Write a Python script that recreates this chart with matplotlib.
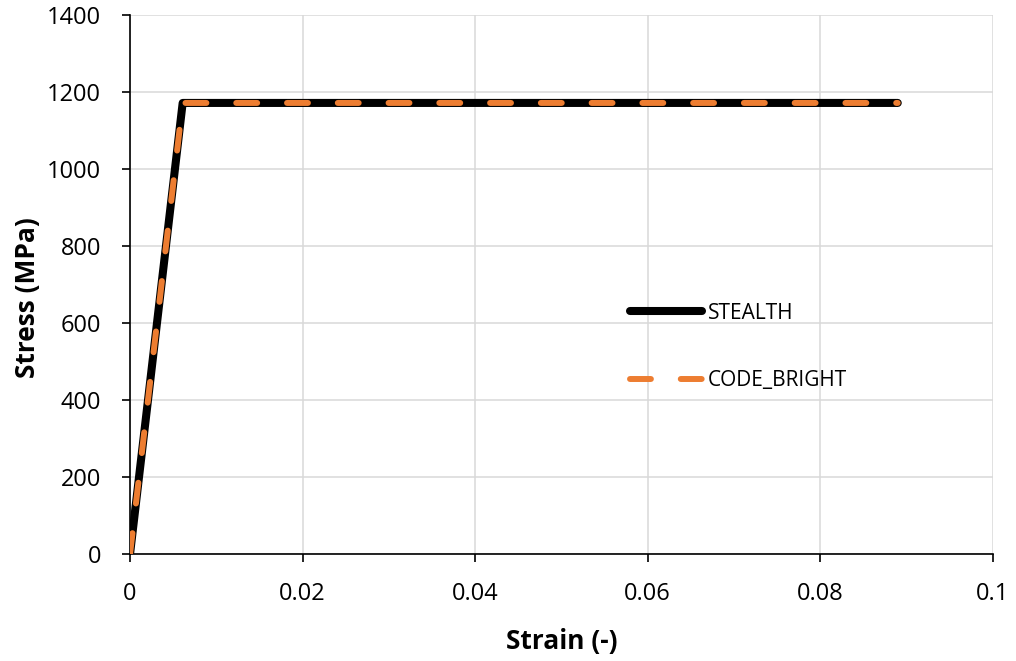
import matplotlib.pyplot as plt

# ---------------------------------------------------------------
# data
# ---------------------------------------------------------------
strain = [0.0, 0.0061, 0.089]
stress_stealth = [0.0, 1172.0, 1172.0]
stress_cb = [0.0, 1172.0, 1172.0]

x_ticks = [0, 0.02, 0.04, 0.06, 0.08, 0.1]
x_labels = ["0", "0.02", "0.04", "0.06", "0.08", "0.1"]
y_ticks = [0, 200, 400, 600, 800, 1000, 1200, 1400]

plt.rcParams["font.family"] = ["Open Sans", "DejaVu Sans"]

fig = plt.figure(figsize=(10.16, 6.61), dpi=100)
ax = fig.add_axes([0.128, 0.162, 0.849, 0.815])

ax.plot(strain, stress_stealth, color="black", lw=5.8, solid_capstyle="round",
        solid_joinstyle="round", label="STEALTH", zorder=3)
ax.plot(strain, stress_cb, color="#ED7D31", lw=4.3, dash_capstyle="round",
        dashes=(3.5, 5.0), label="CODE_BRIGHT", zorder=4)

ax.set_xlim(0, 0.1)
ax.set_ylim(0, 1400)
ax.set_xticks(x_ticks)
ax.set_xticklabels(x_labels)
ax.set_yticks(y_ticks)
ax.tick_params(labelsize=17, length=6, width=1.2, direction="out")
ax.tick_params(axis="x", pad=14)
ax.tick_params(axis="y", pad=15)
ax.grid(True, color="#D9D9D9", lw=1.1)
ax.set_axisbelow(True)
for s in ["top", "right"]:
    ax.spines[s].set_visible(False)
for s in ["left", "bottom"]:
    ax.spines[s].set_linewidth(1.2)

ax.set_xlabel("Strain (-)", fontsize=19, fontweight="bold")
ax.set_ylabel("Stress (MPa)", fontsize=19, fontweight="bold")
ax.xaxis.set_label_coords(0.5, -0.138)
ax.yaxis.set_label_coords(-0.103, 0.476)

ax.legend(loc="center left", bbox_to_anchor=(0.558, 0.384), frameon=False,
          fontsize=15, handlelength=3.45, handletextpad=0.3, labelspacing=2.25)

fig.savefig("out.png", dpi=100)
